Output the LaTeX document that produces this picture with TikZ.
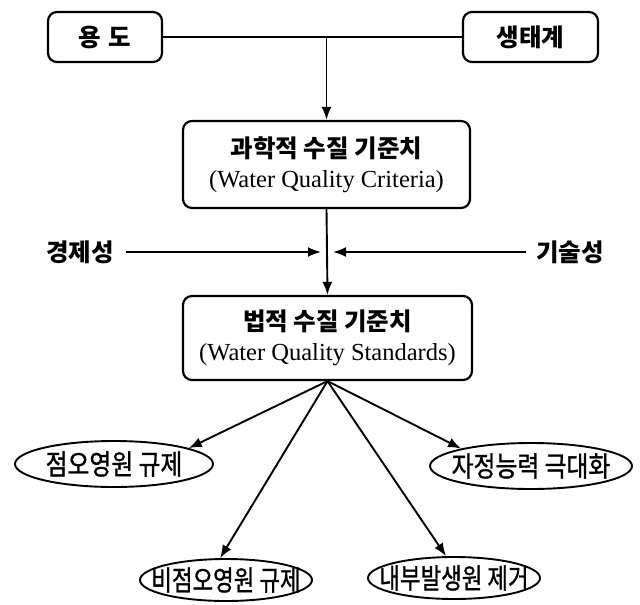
\documentclass[tikz,border=0pt]{standalone}
\usepackage{fontspec}
\usepackage{graphicx}
\setmainfont{Liberation Serif}
\newfontfamily\kr{Noto Sans CJK KR}
\newfontfamily\krm[FakeBold=1.2]{Noto Sans CJK KR}
\usetikzlibrary{shapes.geometric,arrows.meta}
\newcommand\sqz[2][0.85]{\makebox[0pt]{\scalebox{#1}[1]{#2}}}
\begin{document}
\begin{tikzpicture}[x=1pt,y=-1pt,
  box/.style={draw, line width=2.2pt, rounded corners=9pt, inner sep=0pt, align=center,
              font=\fontsize{24.5}{30}\selectfont},
  ell/.style={draw, ellipse, line width=1.9pt, inner sep=0pt, font=\krm\fontsize{28}{34}\selectfont},
  arr/.style={line width=1.9pt, -{Latex[length=13pt,width=10pt]}},
  link/.style={line width=1.9pt},
  kb/.style={font=\kr\bfseries\fontsize{24.5}{30}\selectfont},
]
\useasboundingbox (0,0) rectangle (640,605);

% top boxes
\node[box, kb, minimum width=114pt, minimum height=50pt] (yd) at (105,37) {용\hspace{8pt}도};
\node[box, kb, minimum width=135pt, minimum height=50pt] (st) at (530.5,37) {생태계};

% criteria / standards boxes
\node[box, minimum width=287pt, minimum height=87pt] (A) at (326.5,164.5)
  {{\kr\bfseries 과학적 수질 기준치}\\(Water Quality Criteria)};
\node[box, minimum width=289pt, minimum height=84pt] (B) at (327.5,338)
  {{\kr\bfseries 법적 수질 기준치}\\(Water Quality Standards)};

% side factors
\node[kb, inner sep=0pt] (kj) at (80,252) {경제성};
\node[kb, inner sep=0pt] (gs) at (570,252) {기술성};
\coordinate (kjt) at (321,252);
\coordinate (gst) at (333,252);

% ellipses
\node[ell, minimum width=198pt, minimum height=46pt] (E1) at (114,464) {\sqz{점오영원 규제}};
\node[ell, minimum width=202pt, minimum height=46pt] (E4) at (531,466) {\sqz{자정능력 극대화}};
\node[ell, minimum width=172pt, minimum height=42pt] (E2) at (226,580) {\sqz[0.8]{비점오영원 규제}};
\node[ell, minimum width=172pt, minimum height=42pt] (E3) at (454,578) {\sqz[0.8]{내부발생원 제거}};

% connectors
\draw[link] (yd.east) -- (st.west);
\coordinate (j) at (A.north |- yd.east);
\draw[arr] (j) -- (A.north);
\draw[arr] (A.south) -- (B.north);
\draw[arr] ([xshift=12pt]kj.east) -- (kjt);
\draw[arr] ([xshift=-10pt]gs.west) -- (gst);

\draw[arr] (B.south) -- (E1.12);
\draw[arr] (B.south) -- (E4.166);
\draw[arr] (B.south) -- (E2.105);
\draw[arr] (B.south) -- (E3.110);
\end{tikzpicture}
\end{document}
